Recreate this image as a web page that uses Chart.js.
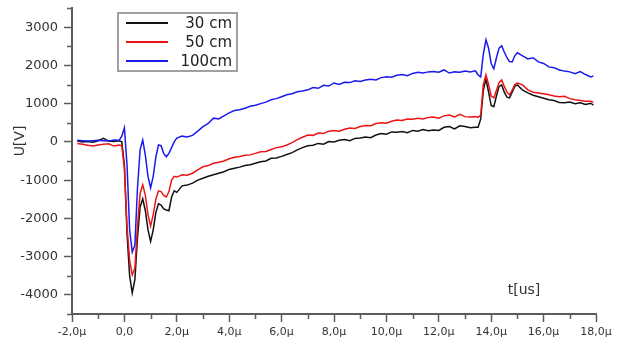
<!DOCTYPE html>
<html><head><meta charset="utf-8">
<script src="https://cdn.jsdelivr.net/npm/chart.js@4.4.1/dist/chart.umd.min.js"></script>
<style>html,body{margin:0;padding:0;background:#fff;overflow:hidden}#wrap{width:642px;height:353px;position:relative}canvas{display:block}</style>
</head><body><div id="wrap"><canvas id="c" width="642" height="353"></canvas></div>
<script>
// time in microseconds
const timeUs = [
  -1.8,-1.6,-1.4,-1.2,-1.0,-0.8,-0.6,-0.4,-0.2,
  -0.1,0.0,0.1,0.2,0.3,0.4,0.5,0.6,0.7,0.8,0.9,1.0,1.1,1.2,1.3,1.4,1.5,1.6,1.7,1.8,1.9,2.0,
  2.2,2.4,2.6,2.8,3.0,3.2,3.4,3.6,3.8,4.0,4.2,4.4,4.6,4.8,5.0,5.2,5.4,5.6,5.8,6.0,
  6.2,6.4,6.6,6.8,7.0,7.2,7.4,7.6,7.8,8.0,8.2,8.4,8.6,8.8,9.0,9.2,9.4,9.6,9.8,10.0,
  10.2,10.4,10.6,10.8,11.0,11.2,11.4,11.6,11.8,12.0,12.2,12.4,12.6,12.8,13.0,13.2,13.4,
  13.5,13.6,13.7,13.8,13.9,14.0,14.1,14.2,14.3,14.4,14.5,14.6,14.7,14.8,14.9,15.0,
  15.2,15.4,15.6,15.8,16.0,16.2,16.4,16.6,16.8,17.0,17.2,17.4,17.6,17.8,17.9
];
// voltage U[V], 30 cm
const v30cm = [
  20,0,10,-10,30,90,20,10,30,
  0,-600,-2400,-3500,-3950,-3600,-2500,-1700,-1490,-1800,-2300,-2600,-2300,-1850,-1620,-1650,-1750,-1780,-1800,-1450,-1280,-1320,
  -1150,-1130,-1080,-1000,-950,-900,-860,-820,-780,-720,-690,-660,-620,-600,-560,-520,-500,-430,-420,-380,
  -330,-280,-210,-150,-100,-90,-40,-60,10,0,40,60,30,90,100,130,110,180,220,200,
  260,250,270,240,300,280,320,290,310,300,380,400,340,420,400,370,380,
  380,600,1350,1650,1300,950,920,1200,1450,1490,1300,1170,1150,1300,1450,1490,
  1350,1280,1220,1180,1140,1100,1080,1030,1020,1040,1000,1020,980,1010,960
];
// voltage U[V], 50 cm
const v50cm = [
  -40,-60,-90,-110,-80,-60,-50,-110,-80,
  -100,-700,-2200,-3100,-3480,-3300,-2200,-1350,-1125,-1400,-1900,-2200,-1900,-1500,-1280,-1300,-1400,-1440,-1300,-1000,-900,-920,
  -860,-870,-820,-730,-650,-620,-560,-530,-500,-440,-400,-380,-350,-340,-300,-260,-250,-200,-150,-130,
  -80,-20,60,120,180,170,230,220,280,300,280,330,360,350,400,430,420,480,500,490,
  540,570,560,600,590,620,600,640,650,620,680,700,650,720,660,650,660,
  640,700,1500,1750,1500,1200,1150,1350,1550,1620,1450,1300,1230,1350,1500,1540,
  1490,1360,1300,1280,1260,1230,1200,1180,1190,1130,1100,1080,1060,1060,1040
];
// voltage U[V], 100 cm
const v100cm = [
  40,30,20,30,40,30,20,50,40,
  150,370,-600,-2300,-2880,-2700,-1200,-200,50,-350,-900,-1200,-900,-400,-80,-100,-300,-390,-300,-150,0,100,
  150,130,170,280,400,480,620,600,680,760,820,840,880,930,960,1000,1040,1100,1130,1180,
  1230,1260,1310,1330,1360,1420,1400,1480,1460,1540,1500,1560,1550,1600,1580,1620,1640,1620,1680,1700,
  1690,1740,1760,1730,1790,1820,1800,1830,1840,1820,1880,1800,1830,1820,1850,1830,1860,
  1750,1700,2300,2670,2450,2050,1910,2200,2450,2510,2350,2200,2100,2090,2250,2330,
  2250,2170,2200,2090,2050,1960,1940,1880,1850,1830,1780,1840,1760,1700,1720
];
const seriesLabels = ['30 cm', '50 cm', '100cm'];
const seriesColors = ['#111111', '#ee1515', '#1a1aee'];
const xTickValues = [-2,0,2,4,6,8,10,12,14,16,18];
const xTickLabels = ['-2,0µ','0,0','2,0µ','4,0µ','6,0µ','8,0µ','10,0µ','12,0µ','14,0µ','16,0µ','18,0µ'];
const yTickValues = [-4000,-3000,-2000,-1000,0,1000,2000,3000];
const yTickLabels = ['-4000','-3000','-2000','-1000','0','1000','2000','3000'];
const yTitle = 'U[V]';
const xTitle = 't[us]';

const axisColor = '#5c5c5c';
const labelColor = '#333333';
const FONT = "'DejaVu Sans', 'Liberation Sans', Arial, sans-serif";

function toPoints(vals) { return timeUs.map((t, i) => ({x: t, y: vals[i]})); }

const decor = {
  id: 'decor',
  afterDraw(chart) {
    const ctx = chart.ctx, ca = chart.chartArea;
    const xs = chart.scales.x, ys = chart.scales.y;
    ctx.save();
    // minor ticks
    ctx.strokeStyle = axisColor; ctx.lineWidth = 1.5;
    ctx.beginPath();
    xs.ticks.forEach(tk => {
      if (xTickValues.indexOf(tk.value) < 0) {
        const px = Math.round(xs.getPixelForValue(tk.value)) + 0.5;
        ctx.moveTo(px, ca.bottom); ctx.lineTo(px, ca.bottom + 5);
      }
    });
    ys.ticks.forEach(tk => {
      if (yTickValues.indexOf(tk.value) < 0) {
        const py = Math.round(ys.getPixelForValue(tk.value)) + 0.5;
        ctx.moveTo(ca.left, py); ctx.lineTo(ca.left - 5, py);
      }
    });
    ctx.stroke();
    // axis titles
    ctx.fillStyle = labelColor;
    ctx.font = '14px ' + FONT;
    ctx.textAlign = 'center'; ctx.textBaseline = 'middle';
    ctx.save();
    ctx.translate(20, (ca.top + ca.bottom) / 2 - 20);
    ctx.rotate(-Math.PI / 2);
    ctx.fillText(yTitle, 0, 0);
    ctx.restore();
    ctx.fillText(xTitle, ca.left + 452, ca.bottom - 24);
    // legend
    const lx = 118, ly = 13, lw = 119, lh = 58;
    ctx.fillStyle = '#ffffff';
    ctx.fillRect(lx, ly, lw, lh);
    ctx.strokeStyle = '#a0a0a0'; ctx.lineWidth = 2;
    ctx.strokeRect(lx, ly, lw, lh);
    ctx.font = '15px ' + FONT;
    ctx.textAlign = 'right'; ctx.textBaseline = 'middle';
    chart.data.datasets.forEach((ds, i) => {
      const yy = ly + 10 + i * 19;
      ctx.strokeStyle = ds.borderColor; ctx.lineWidth = 2;
      ctx.beginPath(); ctx.moveTo(126, yy); ctx.lineTo(168, yy); ctx.stroke();
      ctx.fillStyle = '#222';
      ctx.fillText(ds.label, 232, yy + 1);
    });
    ctx.restore();
  }
};

new Chart(document.getElementById('c'), {
  type: 'line',
  data: {
    datasets: [
      {label: seriesLabels[0], data: toPoints(v30cm), borderColor: seriesColors[0], order: 3},
      {label: seriesLabels[1], data: toPoints(v50cm), borderColor: seriesColors[1], order: 2},
      {label: seriesLabels[2], data: toPoints(v100cm), borderColor: seriesColors[2], order: 1}
    ]
  },
  options: {
    responsive: false,
    animation: false,
    devicePixelRatio: 1,
    layout: {padding: {left: 0, right: 46, top: 8, bottom: 0}},
    plugins: {legend: {display: false}, tooltip: {enabled: false}},
    elements: {point: {radius: 0}, line: {borderWidth: 1.5, tension: 0, fill: false}},
    scales: {
      x: {
        type: 'linear', min: -2, max: 18,
        afterFit(s) { s.height = 39; s.paddingLeft = 0; s.paddingRight = 0; },
        border: {display: true, color: axisColor, width: 2},
        grid: {display: true, drawOnChartArea: false, drawTicks: true, tickLength: 8, tickWidth: 1.5,
               tickColor: c => (c.tick && xTickValues.indexOf(c.tick.value) >= 0) ? axisColor : 'rgba(0,0,0,0)'},
        ticks: {stepSize: 1, autoSkip: false, maxRotation: 0, padding: 4, color: labelColor,
                font: {family: FONT, size: 11},
                callback: v => { const i = xTickValues.indexOf(v); return i >= 0 ? xTickLabels[i] : ''; }}
      },
      y: {
        type: 'linear', min: -4500, max: 3500,
        afterFit(s) { s.width = 72; s.paddingTop = 0; s.paddingBottom = 0; },
        border: {display: true, color: axisColor, width: 2},
        grid: {display: true, drawOnChartArea: false, drawTicks: true, tickLength: 8, tickWidth: 1.5,
               tickColor: c => (c.tick && yTickValues.indexOf(c.tick.value) >= 0) ? axisColor : 'rgba(0,0,0,0)'},
        ticks: {stepSize: 500, autoSkip: false, padding: 6, color: labelColor,
                font: {family: FONT, size: 13},
                callback: v => { const i = yTickValues.indexOf(v); return i >= 0 ? yTickLabels[i] : ''; }}
      }
    }
  },
  plugins: [decor]
});
</script>
</body></html>
